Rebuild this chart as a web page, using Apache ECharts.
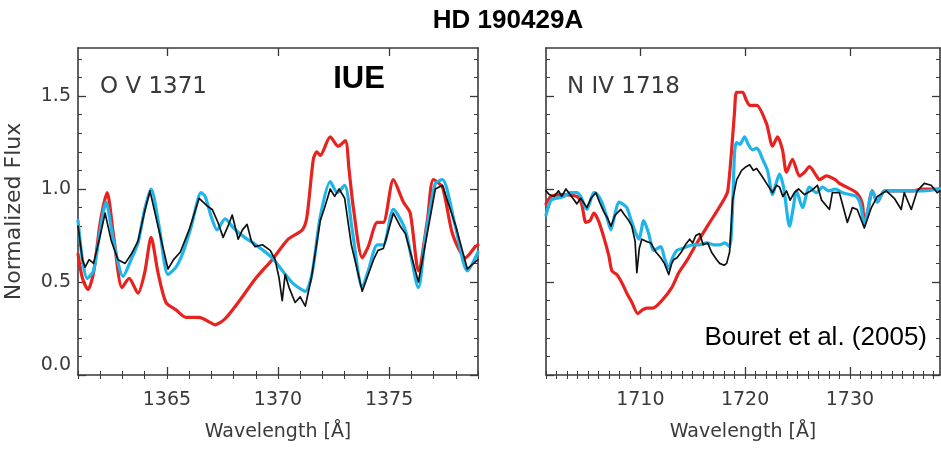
<!DOCTYPE html>
<html><head><meta charset="utf-8">
<script src="https://cdn.jsdelivr.net/npm/echarts@6/dist/echarts.min.js"></script>
<style>html,body{margin:0;padding:0;background:#fff}#c{width:941px;height:451px}</style>
</head><body><div id="c"></div>
<script>
// ---------- Tick labels ----------
const ovTicks = [1365, 1370, 1375];
const ovMinor = [1361,1362,1363,1364,1365,1366,1367,1368,1369,1370,1371,1372,1373,1374,1375,1376,1377,1378,1379];
const nvTicks = [1710, 1720, 1730];
const nvMinor = [1701,1702,1703,1704,1705,1706,1707,1708,1709,1710,1711,1712,1713,1714,1715,1716,1717,1718,1719,1720,1721,1722,1723,1724,1725,1726,1727,1728,1729,1730,1731,1732,1733,1734,1735,1736,1737,1738];
const fluxTicks = [0, 0.5, 1.0, 1.5];
const fluxMinor = [0.1,0.2,0.3,0.4,0.6,0.7,0.8,0.9,1.1,1.2,1.3,1.4,1.6,1.7];

// ---------- O V 1371 panel ----------
const ovObsWave = [1361.0,1361.2,1361.32,1361.5,1361.7,1362.0,1362.22,1362.5,1362.8,1363.12,1363.4,1363.7,1364.0,1364.24,1364.6,1365.05,1365.3,1365.6,1366.0,1366.45,1366.8,1367.04,1367.3,1367.53,1367.75,1367.94,1368.21,1368.4,1368.61,1368.8,1368.97,1369.3,1369.65,1369.87,1370.05,1370.19,1370.32,1370.5,1370.77,1371.0,1371.09,1371.23,1371.5,1371.9,1372.1,1372.35,1372.55,1372.75,1373.0,1373.3,1373.79,1374.06,1374.3,1374.5,1374.74,1375.19,1375.5,1375.73,1376.32,1376.7,1377.08,1377.4,1378.0,1378.52,1378.8,1379.0];
const ovObsFlux = [0.80,0.62,0.58,0.62,0.60,0.75,0.87,0.72,0.62,0.60,0.65,0.72,0.88,0.99,0.80,0.57,0.62,0.66,0.78,0.95,0.91,0.89,0.82,0.74,0.80,0.86,0.73,0.78,0.81,0.72,0.69,0.70,0.67,0.62,0.52,0.40,0.54,0.47,0.39,0.42,0.40,0.37,0.52,0.83,0.90,1.00,0.96,1.00,0.95,0.70,0.45,0.54,0.62,0.67,0.68,0.87,0.80,0.76,0.50,0.75,1.00,1.02,0.80,0.57,0.60,0.62];

const ovRedWave = [1361.0,1361.2,1361.45,1361.7,1362.0,1362.31,1362.6,1362.98,1363.3,1363.7,1364.0,1364.29,1364.6,1364.96,1365.41,1365.86,1366.45,1366.99,1367.17,1367.6,1368.21,1369.0,1369.74,1370.46,1371.09,1371.3,1371.59,1371.75,1371.9,1372.35,1372.71,1373.03,1373.2,1373.39,1373.79,1374.06,1374.47,1374.74,1375.19,1375.64,1375.95,1376.32,1376.72,1376.99,1377.4,1377.85,1378.43,1378.88,1379.0];
const ovRedFlux = [0.65,0.52,0.46,0.55,0.82,0.98,0.75,0.47,0.52,0.44,0.55,0.74,0.55,0.39,0.35,0.31,0.31,0.28,0.27,0.30,0.39,0.52,0.62,0.73,0.78,0.85,1.16,1.20,1.18,1.28,1.23,1.26,1.10,0.90,0.63,0.69,0.82,0.82,1.05,0.93,0.87,0.56,0.83,1.05,1.01,0.76,0.63,0.69,0.70];

const ovBlueWave = [1361.0,1361.2,1361.41,1361.7,1362.0,1362.26,1362.6,1363.03,1363.39,1363.7,1364.0,1364.29,1364.65,1365.05,1365.41,1365.73,1366.1,1366.54,1366.72,1367.0,1367.26,1367.62,1368.0,1368.5,1369.0,1369.74,1370.2,1370.7,1371.23,1371.54,1371.9,1372.35,1372.67,1373.0,1373.34,1373.79,1374.06,1374.47,1374.74,1375.19,1375.73,1376.32,1376.63,1377.08,1377.4,1377.98,1378.52,1379.0];
const ovBlueFlux = [0.83,0.62,0.52,0.56,0.78,0.93,0.72,0.53,0.62,0.71,0.89,1.00,0.80,0.54,0.58,0.66,0.80,0.98,0.96,0.85,0.78,0.84,0.79,0.74,0.70,0.63,0.56,0.49,0.45,0.55,0.85,1.04,0.98,1.02,0.78,0.47,0.56,0.70,0.70,0.89,0.78,0.47,0.74,1.03,1.05,0.80,0.56,0.66];

// ---------- N IV 1718 panel ----------
const nvObsWave = [1701.0,1701.3,1701.76,1702.2,1702.5,1702.9,1703.3,1703.95,1704.3,1704.9,1705.3,1705.76,1706.1,1706.5,1706.9,1707.19,1707.6,1708.14,1708.5,1708.9,1709.19,1709.5,1709.67,1709.9,1710.14,1710.5,1711.0,1711.5,1711.95,1712.3,1712.71,1713.0,1713.19,1713.5,1713.9,1714.3,1714.71,1715.0,1715.3,1715.67,1716.0,1716.43,1716.8,1717.29,1717.57,1718.0,1718.24,1718.52,1718.81,1719.2,1719.67,1720.1,1720.43,1720.8,1721.1,1721.6,1722.05,1722.62,1723.0,1723.29,1723.6,1723.95,1724.3,1724.7,1725.1,1725.67,1726.3,1726.9,1727.3,1728.05,1728.33,1729.0,1729.76,1730.24,1730.7,1731.38,1732.05,1732.62,1733.48,1734.24,1734.9,1735.19,1735.86,1736.43,1737.1,1737.76,1738.33,1738.6];
const nvObsFlux = [0.99,0.97,0.96,0.99,0.96,1.00,0.97,0.92,0.95,0.90,0.95,0.98,0.93,0.88,0.84,0.80,0.86,0.89,0.86,0.83,0.80,0.72,0.55,0.68,0.73,0.72,0.71,0.66,0.63,0.60,0.54,0.60,0.62,0.63,0.66,0.70,0.73,0.71,0.75,0.76,0.70,0.71,0.66,0.62,0.60,0.59,0.60,0.66,0.94,1.05,1.10,1.12,1.13,1.10,1.11,1.07,1.03,0.98,1.02,1.01,0.96,0.99,0.94,0.98,1.00,0.97,0.99,1.02,0.94,0.89,0.98,0.98,0.82,0.90,0.89,0.79,0.90,0.96,0.99,0.95,0.89,0.98,0.89,0.99,1.03,1.02,0.98,0.99];

const nvRedWave = [1701.0,1701.48,1702.5,1703.95,1704.4,1704.81,1705.2,1705.57,1706.0,1706.52,1707.0,1707.29,1707.76,1708.2,1708.71,1709.2,1709.76,1710.2,1710.62,1711.19,1712.05,1713.0,1713.67,1714.5,1715.3,1716.4,1717.3,1718.05,1718.35,1718.7,1719.0,1719.19,1719.76,1720.1,1720.43,1721.1,1722.05,1722.62,1723.1,1723.57,1723.95,1724.52,1725.19,1725.67,1726.14,1726.81,1727.1,1727.76,1728.6,1729.0,1729.7,1730.62,1731.19,1731.38,1731.7,1732.14,1732.62,1733.3,1734.0,1735.0,1736.0,1737.0,1738.6];
const nvRedFlux = [0.92,0.96,0.97,0.96,0.92,0.82,0.83,0.87,0.83,0.74,0.64,0.56,0.54,0.50,0.44,0.39,0.33,0.35,0.36,0.36,0.40,0.47,0.55,0.62,0.70,0.80,0.88,0.95,0.99,1.20,1.42,1.52,1.52,1.48,1.45,1.45,1.35,1.23,1.28,1.21,1.09,1.16,1.07,1.09,1.12,1.07,1.05,1.07,1.05,1.03,1.01,0.98,0.92,0.81,0.88,0.99,0.93,0.99,0.99,0.99,0.99,1.00,1.00];

const nvBlueWave = [1701.0,1701.48,1702.0,1702.71,1703.3,1703.95,1704.3,1704.9,1705.57,1705.9,1706.33,1706.8,1707.19,1707.6,1707.95,1708.3,1708.71,1709.2,1709.86,1710.33,1710.8,1711.29,1711.95,1712.3,1712.71,1713.0,1713.48,1714.0,1714.43,1715.0,1715.6,1716.33,1717.0,1717.6,1718.05,1718.52,1718.8,1719.0,1719.19,1719.5,1719.95,1720.3,1720.71,1721.1,1721.38,1721.67,1722.14,1722.62,1722.9,1723.29,1723.7,1724.24,1724.6,1724.9,1725.48,1726.14,1726.81,1727.38,1728.0,1728.6,1729.29,1730.0,1730.62,1731.0,1731.38,1731.7,1732.14,1732.62,1733.3,1734.0,1735.0,1736.0,1737.0,1738.6];
const nvBlueFlux = [0.86,0.94,0.95,0.96,0.98,0.98,0.96,0.89,0.98,0.97,0.93,0.85,0.78,0.87,0.93,0.92,0.90,0.82,0.73,0.83,0.76,0.67,0.69,0.63,0.57,0.62,0.67,0.68,0.69,0.70,0.70,0.71,0.70,0.70,0.71,0.69,0.90,1.20,1.25,1.24,1.28,1.24,1.21,1.22,1.20,1.16,1.10,0.97,1.02,1.08,1.00,0.80,0.90,0.99,0.90,1.01,0.98,1.01,0.99,1.00,0.98,0.97,0.96,0.92,0.81,0.88,0.99,0.93,0.99,0.99,0.99,0.99,0.99,1.00];

// ---------- build chart ----------
const zip = (w, f) => w.map((x, i) => [x, f[i]]);
const AX = '#3a3a3a';
const FONT = '"DejaVu Sans", "Liberation Sans", sans-serif';
const TXT = '#3a3a3a';
const YMIN = 0, YMAX = 1.758;

function xAxesFor(g, min, max, major, minor, name) {
  const base = {type: 'value', gridIndex: g, min: min, max: max, splitLine: {show: false}};
  return [
    Object.assign({}, base, {position: 'bottom',
      axisLine: {show: true, onZero: false, lineStyle: {color: AX, width: 1.6}},
      axisTick: {show: true, inside: true, length: 8, customValues: major, lineStyle: {color: AX, width: 1.3}},
      axisLabel: {show: true, customValues: major, margin: 16, fontSize: 19, color: TXT, fontFamily: FONT,
        formatter: v => String(Math.round(v))},
      name: name, nameLocation: 'middle', nameGap: 48,
      nameTextStyle: {fontSize: 19, color: TXT, fontFamily: FONT}}),
    Object.assign({}, base, {position: 'bottom', axisLine: {show: false},
      axisTick: {show: true, inside: true, length: 4, customValues: minor, lineStyle: {color: AX, width: 1}},
      axisLabel: {show: false}}),
    Object.assign({}, base, {position: 'top',
      axisLine: {show: true, onZero: false, lineStyle: {color: AX, width: 1.6}},
      axisTick: {show: true, inside: true, length: 8, customValues: major, lineStyle: {color: AX, width: 1.3}},
      axisLabel: {show: false}}),
    Object.assign({}, base, {position: 'top', axisLine: {show: false},
      axisTick: {show: true, inside: true, length: 4, customValues: minor, lineStyle: {color: AX, width: 1}},
      axisLabel: {show: false}})
  ];
}
function yAxesFor(g, showLabels) {
  const base = {type: 'value', gridIndex: g, min: YMIN, max: YMAX, splitLine: {show: false}};
  const main = Object.assign({}, base, {position: 'left',
    axisLine: {show: true, onZero: false, lineStyle: {color: AX, width: 1.6}},
    axisTick: {show: true, inside: true, length: 8, customValues: fluxTicks, lineStyle: {color: AX, width: 1.3}},
    axisLabel: {show: showLabels, customValues: fluxTicks, margin: 7, fontSize: 19, color: TXT, fontFamily: FONT,
      formatter: v => Number(v).toFixed(1), verticalAlignMinLabel: 'bottom'}});
  if (showLabels) {
    main.name = 'Normalized Flux';
    main.nameLocation = 'middle';
    main.nameGap = 53;
    main.nameRotate = 90;
    main.nameTextStyle = {fontSize: 22, color: TXT, fontFamily: FONT};
  }
  return [
    main,
    Object.assign({}, base, {position: 'left', axisLine: {show: false},
      axisTick: {show: true, inside: true, length: 4, customValues: fluxMinor, lineStyle: {color: AX, width: 1}},
      axisLabel: {show: false}}),
    Object.assign({}, base, {position: 'right',
      axisLine: {show: true, onZero: false, lineStyle: {color: AX, width: 1.6}},
      axisTick: {show: true, inside: true, length: 8, customValues: fluxTicks, lineStyle: {color: AX, width: 1.3}},
      axisLabel: {show: false}}),
    Object.assign({}, base, {position: 'right', axisLine: {show: false},
      axisTick: {show: true, inside: true, length: 4, customValues: fluxMinor, lineStyle: {color: AX, width: 1}},
      axisLabel: {show: false}})
  ];
}

const xAxes = xAxesFor(0, 1361, 1379, ovTicks, ovMinor, 'Wavelength [Å]')
  .concat(xAxesFor(1, 1701, 1738.6, nvTicks, nvMinor, 'Wavelength [Å]'));
const yAxes = yAxesFor(0, true).concat(yAxesFor(1, false));

const RED = '#e8231f', BLUE = '#1fb4ea', BLACK = '#111111';
function line(name, xi, yi, data, color, width, smooth, z) {
  return {name: name, type: 'line', xAxisIndex: xi, yAxisIndex: yi, data: data,
    showSymbol: false, symbol: 'none', smooth: smooth, z: z, clip: true, animation: false,
    lineStyle: {color: color, width: width, join: 'round', cap: 'round'}};
}

const option = {
  animation: false,
  backgroundColor: '#ffffff',
  grid: [
    {left: 78, top: 48, width: 400, height: 327, containLabel: false},
    {left: 546, top: 48, width: 394, height: 327, containLabel: false}
  ],
  xAxis: xAxes,
  yAxis: yAxes,
  series: [
    line('O V model A', 0, 0, zip(ovRedWave, ovRedFlux), RED, 3.2, 0.25, 3),
    line('O V model B', 0, 0, zip(ovBlueWave, ovBlueFlux), BLUE, 3.2, 0.25, 4),
    line('O V observed', 0, 0, zip(ovObsWave, ovObsFlux), BLACK, 1.7, false, 5),
    line('N IV model A', 4, 4, zip(nvRedWave, nvRedFlux), RED, 3.2, 0.25, 3),
    line('N IV model B', 4, 4, zip(nvBlueWave, nvBlueFlux), BLUE, 3.2, 0.25, 4),
    line('N IV observed', 4, 4, zip(nvObsWave, nvObsFlux), BLACK, 1.7, false, 5)
  ],
  graphic: [
    {type: 'text', x: 508, y: 21, z: 100, style: {text: 'HD 190429A', font: 'bold 26px "Liberation Sans", Arial, sans-serif', fill: '#000',
      textAlign: 'center', align: 'center', textVerticalAlign: 'middle', verticalAlign: 'middle'}},
    {type: 'text', x: 359, y: 79, z: 100, style: {text: 'IUE', font: 'bold 31px "Liberation Sans", Arial, sans-serif', fill: '#000',
      textAlign: 'center', align: 'center', textVerticalAlign: 'middle', verticalAlign: 'middle'}},
    {type: 'text', x: 100, y: 87, z: 100, style: {text: 'O V 1371', font: '23px "DejaVu Sans", sans-serif', fill: TXT,
      textAlign: 'left', align: 'left', textVerticalAlign: 'middle', verticalAlign: 'middle'}},
    {type: 'text', x: 567, y: 87, z: 100, style: {text: 'N IV 1718', font: '23px "DejaVu Sans", sans-serif', fill: TXT,
      textAlign: 'left', align: 'left', textVerticalAlign: 'middle', verticalAlign: 'middle'}},
    {type: 'text', x: 927, y: 338, z: 100, style: {text: 'Bouret et al. (2005)', font: '26px "Liberation Sans", Arial, sans-serif', fill: '#000',
      textAlign: 'right', align: 'right', textVerticalAlign: 'middle', verticalAlign: 'middle'}}
  ]
};

const chart = echarts.init(document.getElementById('c'), null, {renderer: 'canvas'});
chart.setOption(option);
</script></body></html>
